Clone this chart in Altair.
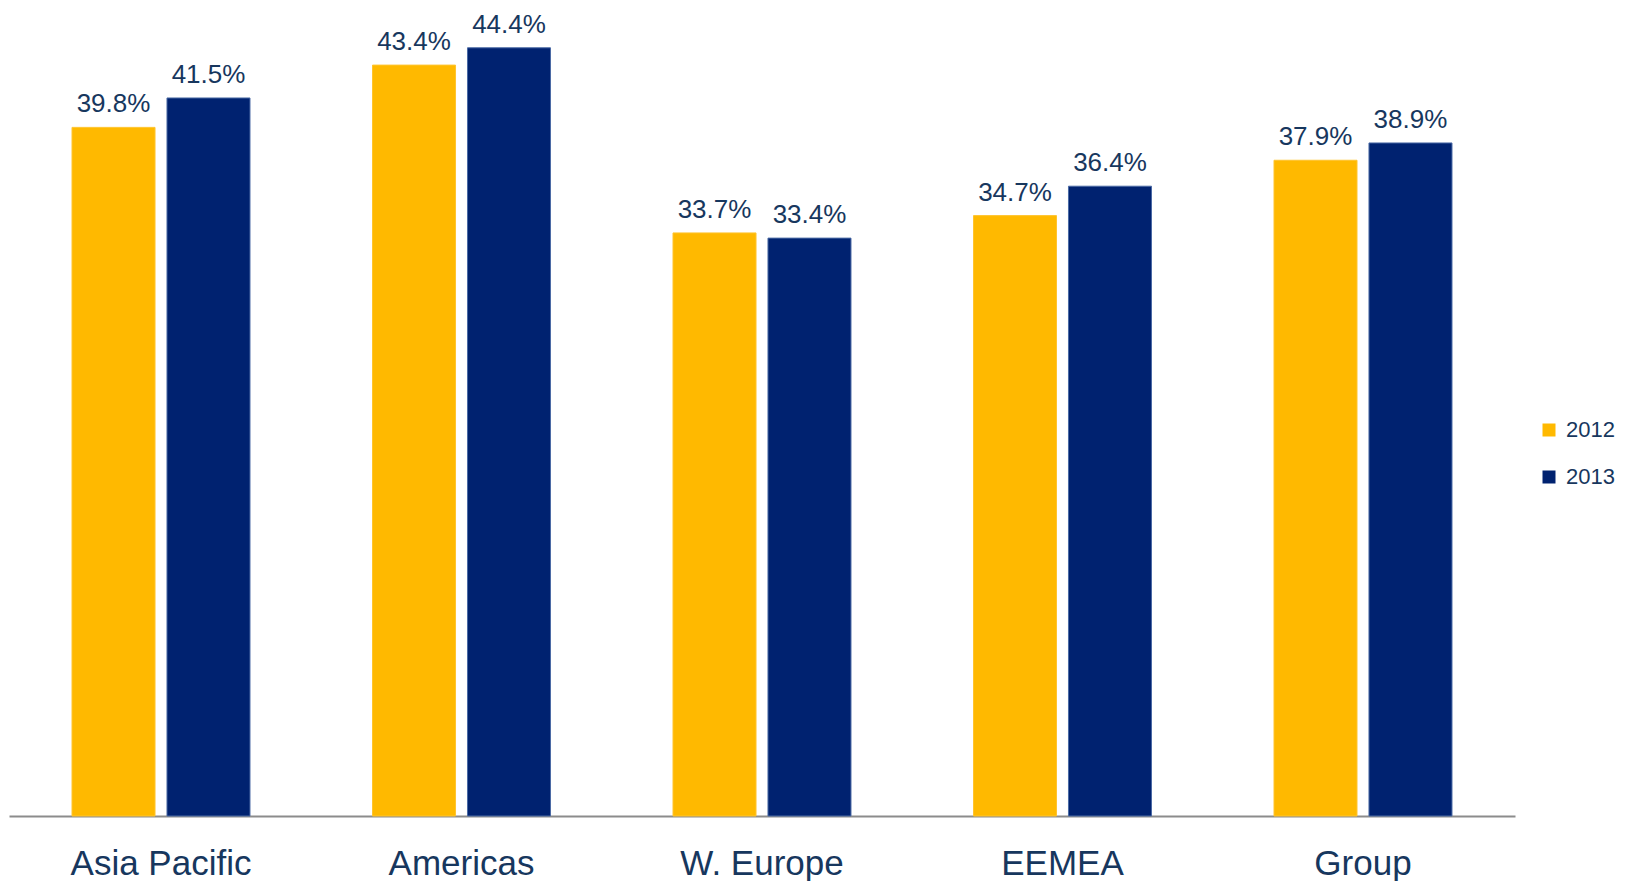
import altair as alt
import pandas as pd

categories = ["Asia Pacific", "Americas", "W. Europe", "EEMEA", "Group"]
years = ["2012", "2013"]
values_2012 = [39.8, 43.4, 33.7, 34.7, 37.9]
values_2013 = [41.5, 44.4, 33.4, 36.4, 38.9]

rows = []
for c, a, b in zip(categories, values_2012, values_2013):
    rows.append({"region": c, "year": "2012", "value": a})
    rows.append({"region": c, "year": "2013", "value": b})
df = pd.DataFrame(rows)
df["label"] = df["value"].map(lambda v: f"{v:.1f}%")

FONT = "Liberation Sans"
TXT = "#17375E"

x_enc = alt.X("region:N", sort=categories,
              scale=alt.Scale(paddingInner=0.4077, paddingOuter=0.2097),
              axis=alt.Axis(title=None, labelAngle=0, ticks=False, labelFontSize=35,
                            labelFont=FONT, labelColor=TXT, labelPadding=30, labelLimit=0,
                            domainColor="#8C8C8C", domainWidth=2, labelBaseline="top"))
xoff = alt.XOffset("year:N", sort=years, scale=alt.Scale(paddingInner=0.126, paddingOuter=0))
y_enc = alt.Y("value:Q", scale=alt.Scale(domain=[0, 46.7], nice=False), axis=None)

bars = alt.Chart(df).mark_bar(strokeWidth=1).encode(
    x=x_enc,
    xOffset=xoff,
    y=y_enc,
    color=alt.Color("year:N", sort=years,
                    scale=alt.Scale(domain=years, range=["#FFB900", "#002270"]),
                    legend=alt.Legend(title=None, orient="none", legendX=1529, legendY=411,
                                      symbolType="square", symbolSize=169, symbolStrokeWidth=0,
                                      labelFont=FONT, labelFontSize=22, labelColor=TXT,
                                      rowPadding=25, labelOffset=6, padding=0)),
    stroke=alt.Stroke("year:N", sort=years,
                      scale=alt.Scale(domain=years, range=["#FFC42E", "#4A6AA5"]),
                      legend=None),
)

labels = alt.Chart(df).mark_text(baseline="bottom", dy=-10, font=FONT, fontSize=26, color=TXT).encode(
    x=alt.X("region:N", sort=categories),
    xOffset=alt.XOffset("year:N", sort=years),
    y="value:Q",
    text="label:N",
)

chart = (bars + labels).properties(
    width=1506, height=808,
    padding={"left": 1, "top": 0, "right": 0, "bottom": 0},
).configure_view(stroke=None)

chart.save("out.html", embed_options={"renderer": "svg", "actions": False})
